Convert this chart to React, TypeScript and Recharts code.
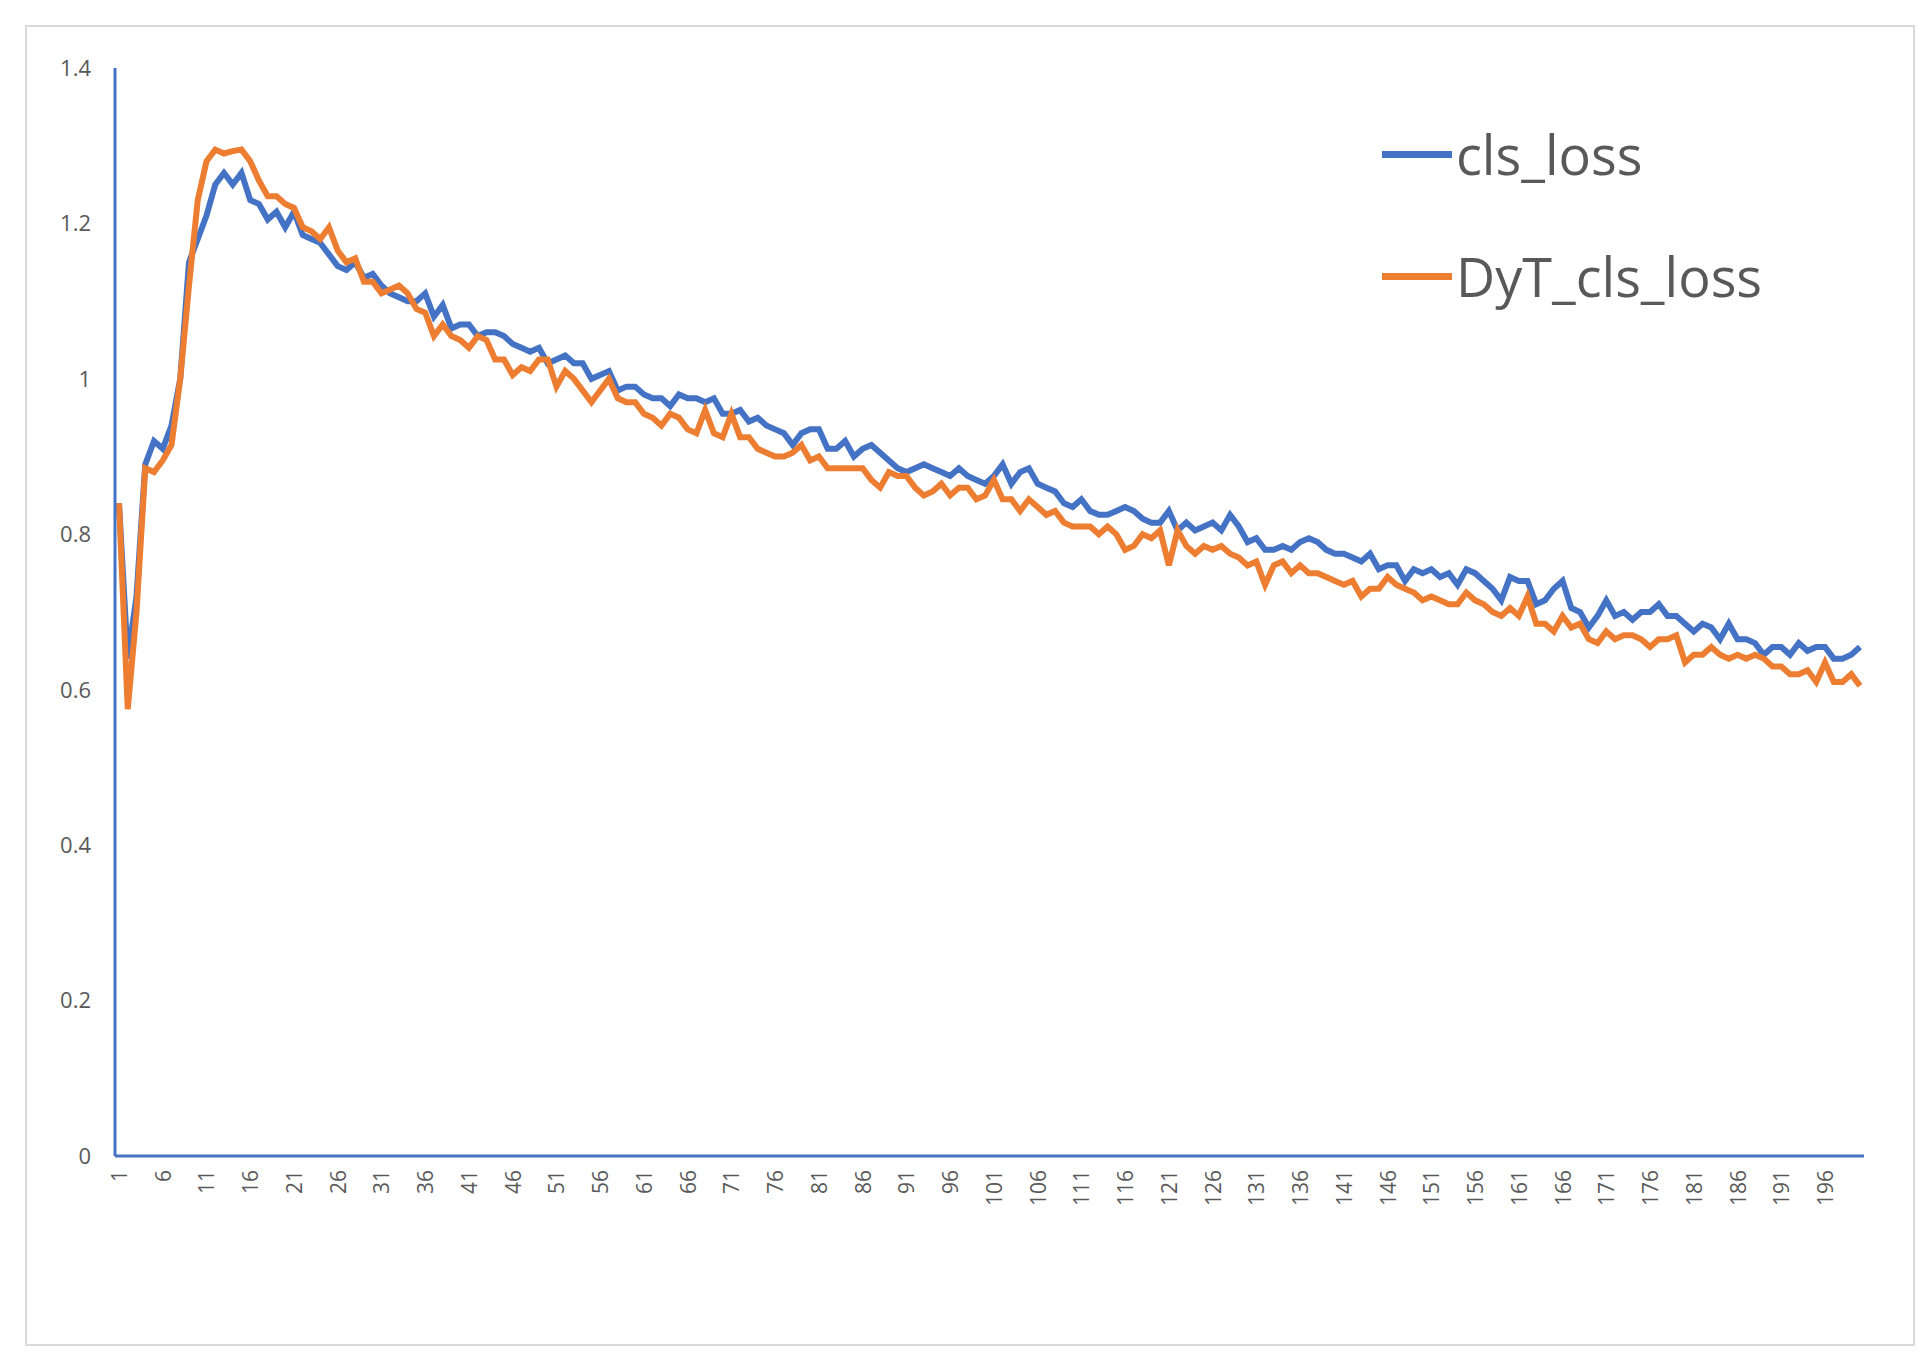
import { LineChart, Line, XAxis, YAxis } from 'recharts'

const clsLoss = [
  0.84, 0.64, 0.72, 0.89, 0.92, 0.91, 0.94, 1.0, 1.15, 1.18,
  1.21, 1.25, 1.265, 1.25, 1.265, 1.23, 1.225, 1.205, 1.215, 1.195,
  1.215, 1.185, 1.18, 1.175, 1.16, 1.145, 1.14, 1.15, 1.13, 1.135,
  1.12, 1.11, 1.105, 1.1, 1.1, 1.11, 1.08, 1.095, 1.065, 1.07,
  1.07, 1.055, 1.06, 1.06, 1.055, 1.045, 1.04, 1.035, 1.04, 1.02,
  1.025, 1.03, 1.02, 1.02, 1.0, 1.005, 1.01, 0.985, 0.99, 0.99,
  0.98, 0.975, 0.975, 0.965, 0.98, 0.975, 0.975, 0.97, 0.975, 0.955,
  0.955, 0.96, 0.945, 0.95, 0.94, 0.935, 0.93, 0.915, 0.93, 0.935,
  0.935, 0.91, 0.91, 0.92, 0.9, 0.91, 0.915, 0.905, 0.895, 0.885,
  0.88, 0.885, 0.89, 0.885, 0.88, 0.875, 0.885, 0.875, 0.87, 0.865,
  0.875, 0.89, 0.865, 0.88, 0.885, 0.865, 0.86, 0.855, 0.84, 0.835,
  0.845, 0.83, 0.825, 0.825, 0.83, 0.835, 0.83, 0.82, 0.815, 0.815,
  0.83, 0.805, 0.815, 0.805, 0.81, 0.815, 0.805, 0.825, 0.81, 0.79,
  0.795, 0.78, 0.78, 0.785, 0.78, 0.79, 0.795, 0.79, 0.78, 0.775,
  0.775, 0.77, 0.765, 0.775, 0.755, 0.76, 0.76, 0.74, 0.755, 0.75,
  0.755, 0.745, 0.75, 0.735, 0.755, 0.75, 0.74, 0.73, 0.715, 0.745,
  0.74, 0.74, 0.71, 0.715, 0.73, 0.74, 0.705, 0.7, 0.68, 0.695,
  0.715, 0.695, 0.7, 0.69, 0.7, 0.7, 0.71, 0.695, 0.695, 0.685,
  0.675, 0.685, 0.68, 0.665, 0.685, 0.665, 0.665, 0.66, 0.645, 0.655,
  0.655, 0.645, 0.66, 0.65, 0.655, 0.655, 0.64, 0.64, 0.645, 0.655,
]

const dytClsLoss = [
  0.84, 0.575, 0.7, 0.885, 0.88, 0.895, 0.915, 1.0, 1.12, 1.23,
  1.28, 1.295, 1.29, 1.293, 1.295, 1.28, 1.255, 1.235, 1.235, 1.225,
  1.22, 1.195, 1.19, 1.18, 1.195, 1.165, 1.15, 1.155, 1.125, 1.125,
  1.11, 1.115, 1.12, 1.11, 1.09, 1.085, 1.055, 1.07, 1.055, 1.05,
  1.04, 1.055, 1.05, 1.025, 1.025, 1.005, 1.015, 1.01, 1.025, 1.025,
  0.99, 1.01, 1.0, 0.985, 0.97, 0.985, 1.0, 0.975, 0.97, 0.97,
  0.955, 0.95, 0.94, 0.955, 0.95, 0.935, 0.93, 0.96, 0.93, 0.925,
  0.955, 0.925, 0.925, 0.91, 0.905, 0.9, 0.9, 0.905, 0.915, 0.895,
  0.9, 0.885, 0.885, 0.885, 0.885, 0.885, 0.87, 0.86, 0.88, 0.875,
  0.875, 0.86, 0.85, 0.855, 0.865, 0.85, 0.86, 0.86, 0.845, 0.85,
  0.87, 0.845, 0.845, 0.83, 0.845, 0.835, 0.825, 0.83, 0.815, 0.81,
  0.81, 0.81, 0.8, 0.81, 0.8, 0.78, 0.785, 0.8, 0.795, 0.805,
  0.76, 0.805, 0.785, 0.775, 0.785, 0.78, 0.785, 0.775, 0.77, 0.76,
  0.765, 0.735, 0.76, 0.765, 0.75, 0.76, 0.75, 0.75, 0.745, 0.74,
  0.735, 0.74, 0.72, 0.73, 0.73, 0.745, 0.735, 0.73, 0.725, 0.715,
  0.72, 0.715, 0.71, 0.71, 0.725, 0.715, 0.71, 0.7, 0.695, 0.705,
  0.695, 0.72, 0.685, 0.685, 0.675, 0.695, 0.68, 0.685, 0.665, 0.66,
  0.675, 0.665, 0.67, 0.67, 0.665, 0.655, 0.665, 0.665, 0.67, 0.635,
  0.645, 0.645, 0.655, 0.645, 0.64, 0.645, 0.64, 0.645, 0.64, 0.63,
  0.63, 0.62, 0.62, 0.625, 0.61, 0.635, 0.61, 0.61, 0.62, 0.605,
]

const steps = clsLoss.map((_, i) => i + 1)
const xTicks = steps.filter((s) => (s - 1) % 5 === 0)
const yTicks = [0, 0.2, 0.4, 0.6, 0.8, 1, 1.2, 1.4]
const seriesNames = ['cls_loss', 'DyT_cls_loss']

const rows = steps.map((s, i) => ({ step: s, cls_loss: clsLoss[i], DyT_cls_loss: dytClsLoss[i] }))

const BLUE = '#4472C4'
const ORANGE = '#ED7D31'
const TEXT = '#595959'
const FONT = '"Open Sans", Calibri, sans-serif'
const colors = [BLUE, ORANGE]

const XTick = ({ x, y, payload }: any) => (
  <text
    x={x}
    y={y}
    transform={`rotate(-90, ${x}, ${y})`}
    dx={-6}
    dy={8}
    textAnchor="end"
    fontSize={21}
    fill={TEXT}
    fontFamily={FONT}
  >
    {payload.value}
  </text>
)

export default function App() {
  return (
    <div style={{ position: 'absolute', left: 0, top: 0, width: 1932, height: 1368, background: '#fff' }}>
      <div
        style={{
          position: 'absolute',
          left: 25,
          top: 25,
          width: 1886,
          height: 1317,
          border: '2px solid #d9d9d9',
        }}
      />
      <LineChart
        width={1932}
        height={1368}
        data={rows}
        margin={{ top: 68, right: 68, left: 25, bottom: 132 }}
        style={{ position: 'absolute', left: 0, top: 0 }}
      >
        <XAxis
          dataKey="step"
          type="category"
          ticks={xTicks}
          interval={0}
          tick={<XTick />}
          tickLine={false}
          height={80}
          axisLine={{ stroke: BLUE, strokeWidth: 3 }}
          padding={{ left: 4, right: 4 }}
        />
        <YAxis
          domain={[0, 1.4]}
          ticks={yTicks}
          width={90}
          tickLine={false}
          axisLine={{ stroke: BLUE, strokeWidth: 3 }}
          tick={{ fontSize: 22, fill: TEXT, fontFamily: FONT }}
          tickMargin={18}
        />
        <Line dataKey="cls_loss" stroke={BLUE} strokeWidth={6} dot={false} isAnimationActive={false} />
        <Line dataKey="DyT_cls_loss" stroke={ORANGE} strokeWidth={6} dot={false} isAnimationActive={false} />
      </LineChart>
      <div style={{ position: 'absolute', left: 1382, top: 93, fontFamily: FONT }}>
        {seriesNames.map((name, i) => (
          <div key={name} style={{ display: 'flex', alignItems: 'center', height: 122 }}>
            <div style={{ width: 70, height: 7, background: colors[i], marginRight: 4 }} />
            <span style={{ fontSize: 54, color: TEXT }}>{name}</span>
          </div>
        ))}
      </div>
    </div>
  )
}
